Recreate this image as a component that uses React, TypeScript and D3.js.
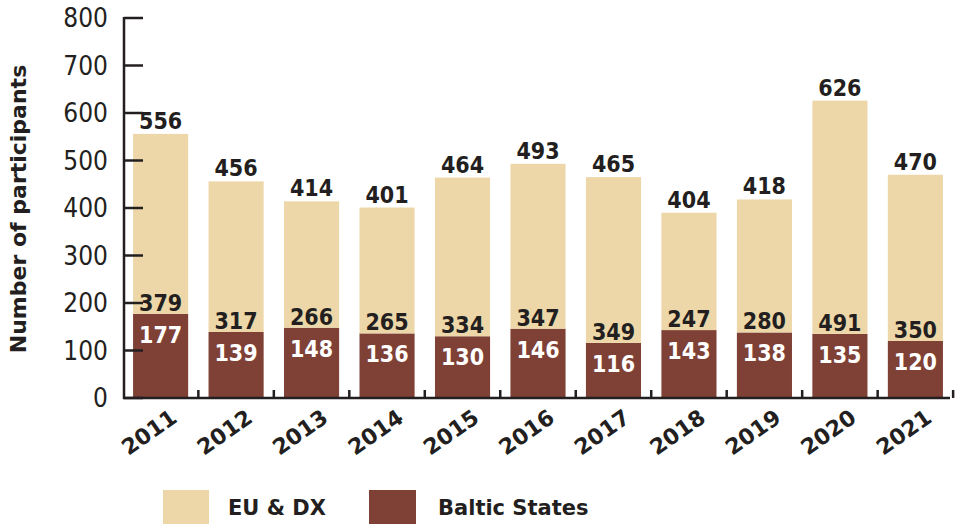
import React from 'react';
import * as d3 from 'd3';

const years = ['2011', '2012', '2013', '2014', '2015', '2016', '2017', '2018', '2019', '2020', '2021'];
const baltic = [177, 139, 148, 136, 130, 146, 116, 143, 138, 135, 120];
const euDx = [379, 317, 266, 265, 334, 347, 349, 247, 280, 491, 350];
const totals = [556, 456, 414, 401, 464, 493, 465, 404, 418, 626, 470];
const yTicks = [0, 100, 200, 300, 400, 500, 600, 700, 800];

const W = 957;
const H = 527;
const INK = '#231F20';
const BEIGE = '#EDD7A8';
const BROWN = '#7F4135';
const FONT = '"DejaVu Sans", sans-serif';
const NARROW = '"DejaVu Sans Condensed", "Liberation Sans Narrow", "DejaVu Sans", sans-serif';

export default function App() {
  const x = d3.scaleBand<string>()
    .domain(years)
    .range([124, 952])
    .paddingInner(0.27)
    .paddingOuter(0.12);

  const y = d3.scaleLinear().domain([0, 800]).range([398, 18]);

  const rows = years.map((yr, i) => ({ yr, baltic: baltic[i], euDx: euDx[i], total: totals[i] }));
  const stack = d3.stack<any>().keys(['baltic', 'euDx'])(rows);
  const colors: Record<string, string> = { baltic: BROWN, euDx: BEIGE };

  const step = x.step();
  const gapTicks = years.map(yr => (x(yr) as number) + x.bandwidth() + (step - x.bandwidth()) / 2);

  return (
    <svg width={W} height={H} style={{ position: 'absolute', left: 0, top: 0, background: '#fff' }}>
      {/* bars */}
      {stack.map(layer => (
        <g key={layer.key} fill={colors[layer.key]}>
          {layer.map((d, i) => (
            <rect key={i}
              x={x(years[i])}
              y={y(d[1])}
              width={x.bandwidth()}
              height={y(d[0]) - y(d[1])} />
          ))}
        </g>
      ))}

      {/* value labels */}
      <g fontFamily={NARROW} fontStretch="condensed" fontWeight="bold" fontSize={23} textAnchor="middle">
        {rows.map((r, i) => {
          const cx = (x(r.yr) as number) + x.bandwidth() / 2;
          const top = y(r.baltic + r.euDx);
          const mid = y(r.baltic);
          return (
            <g key={r.yr}>
              <text x={cx} y={top - 5} fill={INK}>{r.total}</text>
              <text x={cx} y={mid - 3} fill={INK}>{r.euDx}</text>
              <text x={cx} y={mid + 29} fill="#fff">{r.baltic}</text>
            </g>
          );
        })}
      </g>

      {/* y axis */}
      <line x1={124} x2={124} y1={y(800) - 1} y2={y(0) + 1} stroke={INK} strokeWidth={2.5} />
      {yTicks.map(t => (
        <g key={t}>
          <line x1={124} x2={143} y1={y(t)} y2={y(t)} stroke={INK} strokeWidth={2.5} />
          <text x={108} y={y(t)} dy="0.36em" textAnchor="end" fontFamily={NARROW} fontStretch="condensed"
            fontSize={26} fill={INK}>{t}</text>
        </g>
      ))}

      {/* x axis */}
      <line x1={123} x2={950} y1={y(0)} y2={y(0)} stroke={INK} strokeWidth={2.5} />
      {gapTicks.map((gx, i) => (
        <line key={i} x1={gx} x2={gx} y1={y(0)} y2={y(0) - 8} stroke={INK} strokeWidth={2.5} />
      ))}
      {years.map(yr => {
        const cx = (x(yr) as number) + x.bandwidth() / 2;
        return (
          <text key={yr} transform={`translate(${cx + 18},${421}) rotate(-35)`} textAnchor="end"
            fontFamily={FONT} fontWeight="bold" fontSize={22} fill={INK}>{yr}</text>
        );
      })}

      {/* y title */}
      <text transform={`translate(26,${209}) rotate(-90)`} textAnchor="middle"
        fontFamily={FONT} fontWeight="bold" fontSize={22} fill={INK}>Number of participants</text>

      {/* legend */}
      <rect x={163} y={490} width={46} height={34} fill={BEIGE} />
      <text x={228} y={515} fontFamily={FONT} fontWeight="bold" fontSize={21} fill={INK}>EU &amp; DX</text>
      <rect x={369} y={490} width={47} height={34} fill={BROWN} />
      <text x={438} y={515} fontFamily={FONT} fontWeight="bold" fontSize={21} fill={INK}>Baltic States</text>
    </svg>
  );
}
